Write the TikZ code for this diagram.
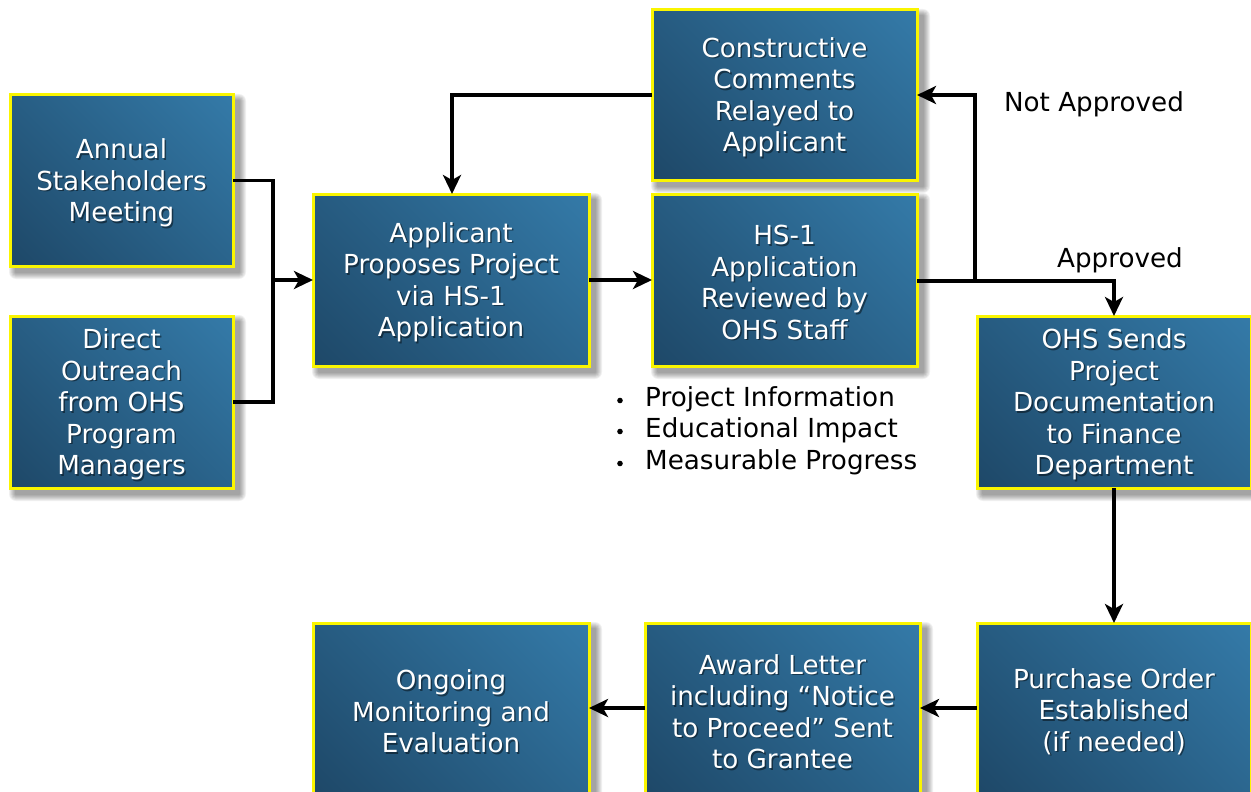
\documentclass[tikz,border=0pt]{standalone}
\usepackage{fontspec}
\setmainfont{DejaVu Sans}
\usetikzlibrary{arrows.meta,calc}
\definecolor{boxlight}{RGB}{52,122,168}
\definecolor{boxdark}{RGB}{30,72,104}
\definecolor{bordery}{RGB}{250,245,0}
\pgfdeclareverticalshading{boxshade}{100bp}{color(0bp)=(boxdark); color(15bp)=(boxdark); color(85bp)=(boxlight); color(100bp)=(boxlight)}
\tikzset{
  box/.style={rectangle, draw=bordery, line width=3pt, shading=boxshade, shading angle=-45, inner sep=0pt, outer sep=0pt},
  boxtxt/.style={text=white, align=center, font=\fontsize{26.2}{31.5}\selectfont, inner sep=0pt},
  boxtxtsh/.style={text=black, opacity=0.45, align=center, font=\fontsize{26.2}{31.5}\selectfont, inner sep=0pt},
  conn/.style={line width=3.4pt, draw=black},
  arr/.style={conn, -{Stealth[length=19pt, width=18pt, inset=5pt]}},
  lbl/.style={text=black, font=\fontsize{26.2}{31.5}\selectfont, inner sep=0pt},
}
\newcommand\mybox[6]{%
  \foreach \k in {1,...,7}{
    \fill[black, opacity=0.06, rounded corners=\k pt] (#2-#4/2+6-\k, #3-#5/2+6-\k) rectangle (#2+#4/2+6+\k, #3+#5/2+6+\k);
  }
  \node[box, minimum width=#4pt, minimum height=#5pt] (#1) at (#2,#3) {};
  \node[boxtxtsh] at ([shift={(1.5pt,-4pt)}]#1.center) {#6};
  \node[boxtxt] at ([shift={(0pt,-2.5pt)}]#1.center) {#6};
}
\begin{document}
\begin{tikzpicture}[x=1pt,y=-1pt]
\useasboundingbox (0,0) rectangle (1251,792);
\fill[white] (0,0) rectangle (1251,792);

\mybox{annual}{121.5}{180.5}{223}{171}{Annual\\Stakeholders\\Meeting}
\mybox{direct}{121.5}{402}{223}{172}{Direct\\Outreach\\from OHS\\Program\\Managers}
\mybox{applicant}{451}{280}{276}{172}{Applicant\\Proposes Project\\via HS-1\\Application}
\mybox{hs}{784.5}{280}{265}{172}{HS-1\\Application\\Reviewed by\\OHS Staff}
\mybox{constr}{784.5}{95}{265}{170}{Constructive\\Comments\\Relayed to\\Applicant}
\mybox{ohs}{1114}{402}{274}{172}{OHS Sends\\Project\\Documentation\\to Finance\\Department}
\mybox{purchase}{1114}{709}{274}{172}{Purchase Order\\Established\\(if needed)}
\mybox{award}{782.5}{709}{275}{172}{Award Letter\\including “Notice\\to Proceed” Sent\\to Grantee}
\mybox{ongoing}{451}{709}{276}{172}{Ongoing\\Monitoring and\\Evaluation}

\coordinate (junc) at (273,280);
\coordinate (split) at (975,281);
\draw[conn] (annual.east) -| (junc);
\draw[conn] (direct.east) -| (junc);
\draw[arr] (junc) -- (applicant.west);
\draw[arr] (applicant.east) -- (hs.west);
\draw[conn] ($(hs.east)+(0,1)$) -- (split);
\draw[arr] (split) |- (constr.east);
\draw[arr] ($(hs.east)+(0,1)$) -| (ohs.north);
\draw[arr] (constr.west) -| ($(applicant.north)+(1,0)$);
\draw[arr] (ohs.south) -- (purchase.north);
\draw[arr] ($(purchase.west)+(0,-1)$) -- ($(award.east)+(0,-1)$);
\draw[arr] ($(award.west)+(0,-1)$) -- ($(ongoing.east)+(0,-1)$);

\node[lbl] (notappr) at (1094,104) {Not Approved};
\node[lbl] (appr) at (1120,260) {Approved};

\node[lbl, anchor=west] (b1) at (645,399) {Project Information};
\node[lbl, anchor=west] (b2) at (645,430) {Educational Impact};
\node[lbl, anchor=west] (b3) at (645,462) {Measurable Progress};
\foreach \n in {b1,b2,b3}
  \fill[black] ($(\n.west)+(-25,1.5)$) circle (2.8pt);
\end{tikzpicture}
\end{document}
